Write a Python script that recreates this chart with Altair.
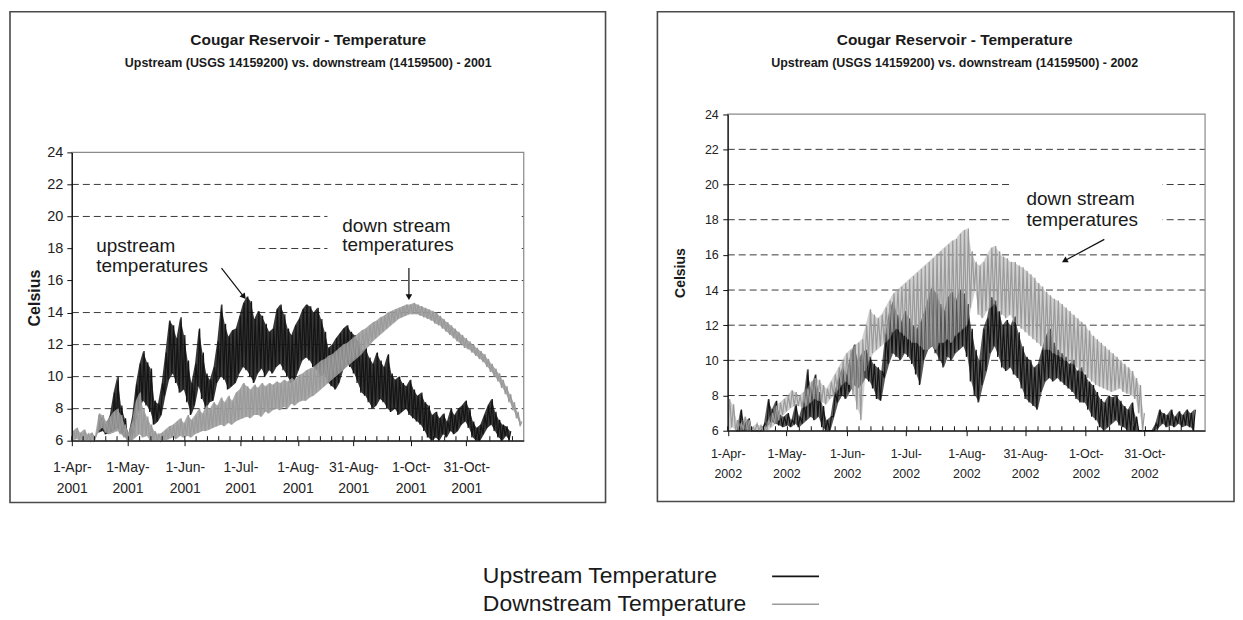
import altair as alt
import pandas as pd

# ---------------- data ----------------
SERIES = ["Upstream Temperature", "Downstream Temperature"]
COLORS = ["#141414", "#9a9a9a"]

TITLE = "Cougar Reservoir - Temperature"
SUB_2001 = "Upstream (USGS 14159200) vs. downstream (14159500) - 2001"
SUB_2002 = "Upstream (USGS 14159200) vs. downstream (14159500) - 2002"

Y_TICKS = [6, 8, 10, 12, 14, 16, 18, 20, 22, 24]
GRID_VALUES = [8, 10, 12, 14, 16, 18, 20, 22]
TICK_MONTH_DAY = [(4, 1), (5, 1), (6, 1), (7, 1), (8, 1), (8, 31), (10, 1), (10, 31)]
MINOR_TICK_DAYS = [0, 6.1, 12.2, 18.3, 24.4, 30.5, 36.6, 42.7, 48.8, 54.9, 61, 67.1, 73.2,
                   79.3, 85.4, 91.5, 97.6, 103.7, 109.8, 115.9, 122, 128.1, 134.2, 140.3,
                   146.4, 152.5, 158.6, 164.7, 170.8, 176.9, 183, 189.1, 195.2, 201.3,
                   207.4, 213.5, 219.6, 225.7, 231.8, 237.9]

# Each series: start day (days after 1-Apr) and (daily low, daily high) every 2 days
U1_START = 14
U1 = [(6.5, 7.6), (6.6, 7.4), (6.4, 7.0), (6.5, 7.6), (6.6, 9.0), (6.8, 10.0), (6.5, 8.2),
      (6.3, 7.4), (6.0, 6.4), (6.0, 7.5), (7.2, 9.5), (8.0, 10.8), (8.5, 11.6), (8.2, 10.9),
      (7.8, 10.5), (7.0, 8.5), (7.2, 8.3), (7.6, 9.6), (8.8, 11.5), (9.8, 13.5), (10.2, 13.2),
      (9.6, 12.4), (9.0, 13.7), (9.2, 12.6), (8.4, 11.0), (7.6, 9.6), (8.2, 10.8), (9.4, 13.0),
      (8.6, 11.5), (8.0, 10.2), (8.4, 9.8), (8.5, 10.6), (9.6, 12.2), (10.0, 14.5), (9.8, 13.3),
      (9.2, 12.5), (9.4, 12.9), (9.6, 13.0), (10.2, 13.8), (10.6, 14.6), (10.4, 15.0),
      (10.0, 14.7), (9.6, 13.6), (10.2, 14.1), (10.5, 13.8), (10.0, 13.3), (10.4, 12.8),
      (10.2, 13.0), (10.6, 14.2), (10.8, 14.5), (10.4, 13.9), (10.0, 13.0), (9.6, 12.6),
      (9.8, 13.2), (10.4, 13.6), (11.0, 14.2), (11.2, 14.5), (11.0, 14.4), (10.6, 14.0),
      (10.4, 14.3), (10.0, 13.6), (10.2, 12.8), (9.6, 11.8), (9.4, 12.0), (9.2, 12.4),
      (9.6, 12.7), (10.4, 13.0), (10.8, 13.2), (10.6, 12.8), (10.2, 12.6), (9.6, 12.2),
      (9.0, 11.6), (8.8, 11.8), (8.4, 11.2), (8.0, 10.8), (8.2, 11.5), (8.6, 11.0), (8.4, 10.6),
      (8.0, 11.4), (7.8, 10.2), (8.0, 9.8), (7.6, 10.0), (7.8, 9.6), (8.0, 9.4), (7.6, 9.8),
      (7.4, 9.2), (7.2, 8.8), (7.0, 9.0), (6.6, 8.4), (6.2, 8.2), (6.0, 7.6), (6.2, 7.8),
      (6.0, 7.4), (6.4, 7.7), (6.2, 7.2), (6.6, 8.0), (6.4, 7.6), (6.6, 8.0), (7.0, 8.2),
      (7.2, 8.5), (6.8, 8.0), (6.2, 7.2), (6.0, 6.8), (6.0, 7.0), (6.4, 7.6), (6.8, 8.2),
      (7.0, 8.6), (6.6, 7.8), (6.2, 7.3), (6.0, 7.0), (6.3, 6.9), (6.0, 6.6)]

D1_START = 0
D1 = [(6.0, 6.6), (6.1, 6.8), (6.0, 6.5), (6.0, 6.7), (6.0, 6.4), (6.0, 6.5), (6.0, 6.3),
      (6.6, 7.7), (6.8, 7.6), (6.5, 7.2), (6.4, 7.5), (6.5, 7.8), (6.6, 8.0), (6.4, 7.6),
      (6.2, 7.0), (6.0, 6.5), (6.0, 7.2), (6.2, 8.5), (6.4, 9.0), (6.2, 8.0), (6.3, 7.5),
      (6.0, 7.0), (6.0, 6.6), (6.0, 6.4), (6.0, 6.5), (6.0, 6.7), (6.1, 6.9), (6.2, 7.0),
      (6.1, 7.2), (6.3, 7.4), (6.2, 7.1), (6.3, 7.6), (6.2, 7.3), (6.4, 7.6), (6.5, 8.0),
      (6.6, 7.7), (6.6, 8.2), (6.7, 8.0), (6.8, 8.4), (6.9, 8.2), (7.0, 8.7), (6.9, 8.4),
      (7.1, 8.8), (7.0, 8.5), (7.2, 9.0), (7.3, 9.2), (7.4, 9.6), (7.5, 9.4), (7.4, 9.2),
      (7.6, 9.5), (7.6, 9.3), (7.5, 9.6), (7.8, 9.4), (7.7, 9.6), (7.9, 9.5), (8.0, 9.7),
      (7.9, 9.6), (8.1, 9.8), (8.0, 9.7), (8.3, 9.9), (8.2, 9.8), (8.4, 10.1), (8.5, 10.2),
      (8.5, 10.4), (8.7, 10.5), (8.8, 10.6), (9.0, 10.8), (9.2, 11.0), (9.4, 11.1), (9.6, 11.3),
      (9.8, 11.4), (10.0, 11.6), (10.2, 11.8), (10.4, 12.0), (10.6, 12.1), (10.8, 12.3),
      (11.0, 12.5), (11.2, 12.7), (11.4, 12.9), (11.7, 13.0), (11.9, 13.2), (12.2, 13.4),
      (12.4, 13.5), (12.6, 13.7), (12.8, 13.8), (13.0, 14.0), (13.2, 14.1), (13.4, 14.2),
      (13.6, 14.3), (13.7, 14.4), (13.8, 14.5), (13.9, 14.5), (13.9, 14.6), (13.9, 14.5),
      (13.8, 14.4), (13.7, 14.3), (13.6, 14.2), (13.5, 14.1), (13.3, 14.0), (13.2, 13.8),
      (13.0, 13.6), (12.8, 13.4), (12.6, 13.2), (12.4, 13.0), (12.2, 12.8), (12.0, 12.6),
      (11.8, 12.4), (11.7, 12.2), (11.5, 12.0), (11.3, 11.8), (11.1, 11.6), (10.9, 11.4),
      (10.6, 11.1), (10.3, 10.8), (10.0, 10.5), (9.7, 10.2), (9.3, 9.8), (8.9, 9.4),
      (8.4, 8.9), (7.9, 8.4), (7.4, 7.8), (6.9, 7.2)]

U2_START = 4
U2 = [(6.0, 6.0), (6.0, 7.2), (6.0, 6.4), (6.0, 6.7), (6.0, 6.0), (6.0, 6.0), (6.0, 6.0),
      (6.0, 6.4), (6.3, 7.8), (6.5, 7.2), (6.4, 7.7), (6.3, 6.9), (6.2, 6.8), (6.3, 7.0),
      (6.2, 6.6), (6.4, 7.5), (6.2, 6.8), (6.4, 7.6), (6.6, 9.5), (6.8, 8.4), (6.6, 9.2),
      (6.8, 8.2), (6.2, 7.4), (6.0, 6.6), (6.0, 6.8), (6.8, 8.2), (7.6, 9.0), (8.0, 9.6),
      (7.8, 9.2), (8.2, 10.2), (8.6, 10.9), (8.4, 10.0), (8.6, 10.4), (9.0, 10.6), (8.8, 10.2),
      (8.4, 9.8), (7.8, 9.6), (7.7, 9.4), (9.0, 11.5), (9.8, 12.8), (10.4, 13.4), (10.2, 12.6),
      (10.0, 12.2), (10.4, 12.8), (10.2, 12.4), (9.8, 12.0), (9.2, 11.8), (8.6, 12.2),
      (10.0, 12.8), (10.6, 13.6), (10.8, 14.2), (10.4, 13.8), (10.0, 13.2), (9.6, 12.8),
      (10.2, 13.6), (10.0, 13.9), (10.4, 13.4), (10.6, 14.0), (10.8, 13.8), (10.2, 13.2),
      (8.8, 11.8), (8.0, 10.6), (7.6, 10.0), (8.6, 11.8), (9.4, 12.4), (10.4, 13.6),
      (10.8, 13.4), (10.2, 12.8), (9.6, 12.0), (9.4, 12.3), (9.6, 12.0), (9.2, 12.5),
      (9.0, 11.6), (8.4, 10.8), (7.8, 10.2), (7.6, 10.0), (7.4, 9.6), (7.2, 9.8), (8.2, 10.6),
      (8.8, 11.4), (9.0, 11.8), (8.8, 11.0), (9.0, 10.6), (8.8, 10.4), (8.6, 10.2), (8.4, 9.8),
      (8.2, 10.0), (7.8, 9.4), (7.6, 9.6), (7.6, 9.2), (7.2, 8.8), (6.8, 8.6), (6.6, 8.2),
      (6.2, 7.8), (6.0, 7.6), (6.2, 8.0), (6.4, 7.9), (6.6, 8.0), (6.3, 7.7), (6.2, 7.4),
      (6.0, 7.2), (6.0, 7.6), (6.0, 6.8), (6.0, 6.0), (6.0, 6.0), (6.0, 6.0), (6.0, 6.0),
      (6.0, 6.4), (6.2, 7.2), (6.4, 7.0), (6.2, 6.9), (6.3, 7.2), (6.2, 6.8), (6.4, 7.1),
      (6.2, 6.9), (6.3, 7.2), (6.2, 7.0), (6.0, 7.2)]

D2_START = 0
D2 = [(6.0, 7.8), (6.2, 7.5), (6.0, 6.6), (6.0, 6.4), (6.1, 6.8), (6.0, 6.6), (6.0, 6.2),
      (6.0, 6.4), (6.0, 6.3), (6.0, 6.2), (6.0, 6.6), (6.2, 7.0), (6.4, 7.4), (6.6, 7.6),
      (6.9, 7.8), (7.1, 8.0), (7.3, 8.3), (7.4, 8.2), (7.4, 8.0), (7.3, 8.2), (7.4, 8.4),
      (7.6, 8.8), (7.8, 9.0), (7.7, 8.9), (7.6, 8.6), (7.5, 8.4), (7.8, 8.8), (8.0, 9.2),
      (8.3, 9.6), (8.6, 10.0), (8.8, 10.4), (8.6, 10.6), (8.0, 10.8), (7.2, 11.0), (6.6, 11.2),
      (9.4, 12.0), (10.0, 12.9), (10.4, 12.6), (10.6, 12.4), (10.8, 12.6), (11.0, 13.0),
      (11.2, 13.4), (11.6, 13.8), (11.8, 14.0), (11.6, 14.2), (11.4, 14.4), (11.2, 14.6),
      (11.0, 14.8), (11.0, 15.0), (10.8, 15.2), (10.6, 15.4), (10.6, 15.6), (10.8, 15.8),
      (10.6, 16.0), (11.0, 16.2), (11.0, 16.4), (11.2, 16.6), (11.0, 16.8), (11.4, 16.9),
      (11.6, 17.2), (11.8, 17.4), (12.0, 17.5), (13.0, 16.2), (14.0, 15.6), (12.6, 15.4),
      (12.4, 15.6), (12.8, 16.0), (13.0, 16.4), (13.2, 16.5), (12.8, 16.2), (12.6, 15.9),
      (12.4, 15.8), (12.6, 15.6), (12.2, 15.6), (12.0, 15.4), (11.8, 15.3), (11.6, 15.1),
      (11.4, 14.9), (11.2, 14.7), (11.0, 14.4), (10.8, 14.2), (10.6, 13.9), (10.6, 13.7),
      (10.4, 13.5), (10.3, 13.4), (10.2, 13.2), (10.0, 13.0), (9.9, 12.8), (9.8, 12.6),
      (9.6, 12.4), (9.4, 12.2), (9.3, 12.0), (9.0, 11.7), (8.8, 11.4), (8.6, 11.2),
      (8.5, 11.0), (8.4, 10.8), (8.3, 10.6), (8.2, 10.4), (8.3, 10.2), (8.4, 10.0),
      (8.2, 9.8), (8.1, 9.6), (8.0, 9.4), (7.8, 9.0), (7.0, 8.6), (6.0, 7.0)]

FONT = "Liberation Sans"
INK = "#1a1a1a"


def day_str(year, d):
    t = pd.Timestamp(year=year, month=4, day=1) + pd.Timedelta(days=d)
    return t.strftime("%Y-%m-%dT%H:%M:%S")


def zigzag(year, start, pairs):
    rows = []
    for i, (lo, hi) in enumerate(pairs):
        d = start + 2 * i
        rows.append({"date": day_str(year, d), "temp": lo})
        rows.append({"date": day_str(year, d + 1), "temp": hi})
    return pd.DataFrame(rows)


def band(year, start, pairs):
    return pd.DataFrame([{"date": day_str(year, start + 2 * i + 0.5), "lo": lo, "hi": hi}
                         for i, (lo, hi) in enumerate(pairs)])


def panel(year, up_start, up, dn_start, dn, subtitle, g):
    W, H = g["W"], g["H"]
    x0, x1 = g["xr"]
    ytop, ybot = g["yr"]
    d0 = alt.DateTime(year=year, month=4, date=1)
    d1 = alt.DateTime(year=year, month=12, date=1)
    xs = alt.Scale(domain=[d0, d1], range=[x0, x1])
    ys = alt.Scale(domain=[6, 24], range=[ybot, ytop], nice=False, zero=False)
    start_s, end_s = day_str(year, 0), day_str(year, 244)

    xaxis = alt.Axis(
        values=[alt.DateTime(year=year, month=m, date=d) for m, d in TICK_MONTH_DAY],
        labelExpr="[timeFormat(datum.value, '%-d-%b-'), timeFormat(datum.value, '%Y')]",
        orient="bottom", offset=-(H - ybot), title=None, grid=False,
        tickSize=5, tickColor="#111", domainColor="#111", domainWidth=1.2,
        labelFont=FONT, labelFontSize=g["xlab"], labelColor="#222",
        labelPadding=g["xpad"], labelLineHeight=g["xlh"], labelAngle=0,
        labelOverlap=False, labelFlush=False, labelBound=False, zindex=2)
    yaxis = alt.Axis(
        values=Y_TICKS, orient="left", offset=-x0, title=None, grid=False,
        tickSize=5, tickColor="#111", domainColor="#111", domainWidth=1.2,
        labelFont=FONT, labelFontSize=g["ylab"], labelColor="#222",
        labelPadding=g["ypad"], zindex=2)

    def X(field):
        return alt.X(field, scale=xs, axis=xaxis)

    def Y(field):
        return alt.Y(field, scale=ys, axis=yaxis)

    grid_df = pd.DataFrame({"v": GRID_VALUES, "a": start_s, "b": end_s})
    grid = alt.Chart(grid_df).mark_rule(color="#3a3a3a", strokeDash=[7, 4], strokeWidth=1).encode(
        x=X("a:T"), x2="b:T", y=Y("v:Q"))

    box_df = pd.DataFrame([{"a": day_str(year, b[0]), "b": day_str(year, b[1]),
                            "lo": b[2], "hi": b[3]} for b in g["boxes"]])
    boxes = alt.Chart(box_df).mark_rect(color="white").encode(
        x=X("a:T"), x2="b:T", y=Y("lo:Q"), y2="hi:Q")

    frame_df = pd.DataFrame({"a": [start_s], "b": [end_s], "lo": [6], "hi": [24]})
    frame = alt.Chart(frame_df).mark_rect(fillOpacity=0, stroke="#8a8a8a", strokeWidth=1.2).encode(
        x=X("a:T"), x2="b:T", y=Y("lo:Q"), y2="hi:Q")

    up_band = alt.Chart(band(year, up_start, up)).mark_area(
        color=COLORS[0], opacity=g["up_op"]).encode(x=X("date:T"), y=Y("lo:Q"), y2="hi:Q")
    up_line = alt.Chart(zigzag(year, up_start, up)).mark_line(
        color=COLORS[0], strokeWidth=1.2, interpolate="linear").encode(
        x=X("date:T"), y=Y("temp:Q"))
    dn_band = alt.Chart(band(year, dn_start, dn)).mark_area(
        color=COLORS[1], opacity=g["dn_op"]).encode(x=X("date:T"), y=Y("lo:Q"), y2="hi:Q")
    dn_line = alt.Chart(zigzag(year, dn_start, dn)).mark_line(
        color=COLORS[1], strokeWidth=1.2, interpolate="linear").encode(
        x=X("date:T"), y=Y("temp:Q"))

    tick_df = pd.DataFrame({"d": [day_str(year, t) for t in MINOR_TICK_DAYS],
                            "lo": 6, "hi": 6 + g["tick_len"]})
    ticks = alt.Chart(tick_df).mark_rule(color="#111", strokeWidth=1).encode(
        x=X("d:T"), y=Y("lo:Q"), y2="hi:Q")

    txt_df = pd.DataFrame([{"d": day_str(year, t[1]), "v": t[2], "t": t[0]} for t in g["texts"]])
    texts = alt.Chart(txt_df).mark_text(
        align="left", baseline="middle", font=FONT, fontSize=g["ann"], color=INK).encode(
        x=X("d:T"), y=Y("v:Q"), text="t:N")

    arr_df = pd.DataFrame([{"a": day_str(year, r[0]), "va": r[1], "b": day_str(year, r[2]),
                            "vb": r[3], "ang": r[4]} for r in g["arrows"]])
    arr_lines = alt.Chart(arr_df).mark_rule(color="#111", strokeWidth=1.2).encode(
        x=X("a:T"), x2="b:T", y=Y("va:Q"), y2="vb:Q")
    arr_heads = alt.Chart(arr_df).mark_point(
        shape="triangle", filled=True, size=45, color="#111", opacity=1).encode(
        x=X("b:T"), y=Y("vb:Q"), angle=alt.Angle("ang:Q", scale=None))

    title = alt.Chart(pd.DataFrame({"t": [TITLE]})).mark_text(
        font=FONT, fontSize=g["tfs"], fontWeight="bold", color=INK, align="center",
        baseline="middle").encode(text="t:N", x=alt.value(g["tx"]), y=alt.value(28))
    sub = alt.Chart(pd.DataFrame({"t": [subtitle]})).mark_text(
        font=FONT, fontSize=g["sfs"], fontWeight="bold", color=INK, align="center",
        baseline="middle").encode(text="t:N", x=alt.value(g["tx"]), y=alt.value(51))
    ylab = alt.Chart(pd.DataFrame({"t": ["Celsius"]})).mark_text(
        font=FONT, fontSize=g["cfs"], fontWeight="bold", color=INK, angle=270,
        align="center", baseline="middle").encode(
        text="t:N", x=alt.value(g["cx"]), y=alt.value(g["cy"]))

    return alt.layer(grid, boxes, frame, up_band, up_line, dn_band, dn_line, ticks, texts,
                     arr_lines, arr_heads, title, sub, ylab).properties(
        width=W, height=H,
        view=alt.ViewBackground(stroke="#4a4a4a", strokeWidth=1.6))


G1 = dict(W=597, H=492, xr=[62, 515], yr=[141, 430], xlab=14, xpad=15, xlh=21,
          ylab=14.5, ypad=4, ann=19, tfs=15.5, sfs=12.5, tx=299, cx=25, cy=287, cfs=16,
          tick_len=0.28, up_op=0.85, dn_op=0.85,
          boxes=[(0.5, 100, 15.6, 19.5), (138, 241, 16.8, 21.0)],
          texts=[("upstream", 13.2, 18.15), ("temperatures", 13.2, 16.9),
                 ("down stream", 146, 19.4), ("temperatures", 146, 18.2)],
          arrows=[(80.8, 16.78, 92.6, 15.03, 142), (182, 16.78, 182, 15.03, 180)])
G2 = dict(W=578, H=491, xr=[70.5, 549], yr=[102.7, 420], xlab=12.5, xpad=12, xlh=20,
          ylab=12.5, ypad=4.5, ann=19, tfs=15.5, sfs=12.5, tx=298, cx=24, cy=262, cfs=14,
          tick_len=0.25, up_op=0.7, dn_op=0.45,
          boxes=[(145.2, 222.2, 16.8, 21.0)],
          texts=[("down stream", 152.7, 19.2), ("temperatures", 152.7, 18.0)],
          arrows=[(192.5, 16.88, 172.6, 15.69, 241.7)])

p1 = panel(2001, U1_START, U1, D1_START, D1, SUB_2001, G1)
p2 = panel(2002, U2_START, U2, D2_START, D2, SUB_2002, G2)

leg_df = pd.DataFrame({"series": SERIES})
leg_y = alt.Y("series:N", scale=alt.Scale(type="point", domain=SERIES, range=[73, 101], padding=0),
              axis=None)
leg_color = alt.Color("series:N", scale=alt.Scale(domain=SERIES, range=COLORS), legend=None)
leg_text = alt.Chart(leg_df).mark_text(
    align="left", baseline="middle", font=FONT, fontSize=23, color=INK).encode(
    x=alt.value(474), y=leg_y, text="series:N")
leg_line = alt.Chart(leg_df).mark_rule(strokeWidth=1.6).encode(
    x=alt.value(764), x2=alt.value(811), y=leg_y, color=leg_color)
legend = alt.layer(leg_line, leg_text).properties(
    width=1100, height=108, view=alt.ViewBackground(stroke="transparent", strokeWidth=0))

chart = alt.vconcat(
    alt.hconcat(p1, p2, spacing=50), legend, spacing=0
).properties(
    padding={"left": 1, "top": 2, "right": 0, "bottom": 0}, background="white"
).configure_view(strokeWidth=0)

chart.save("out.html", embed_options={"renderer": "svg", "actions": False})
